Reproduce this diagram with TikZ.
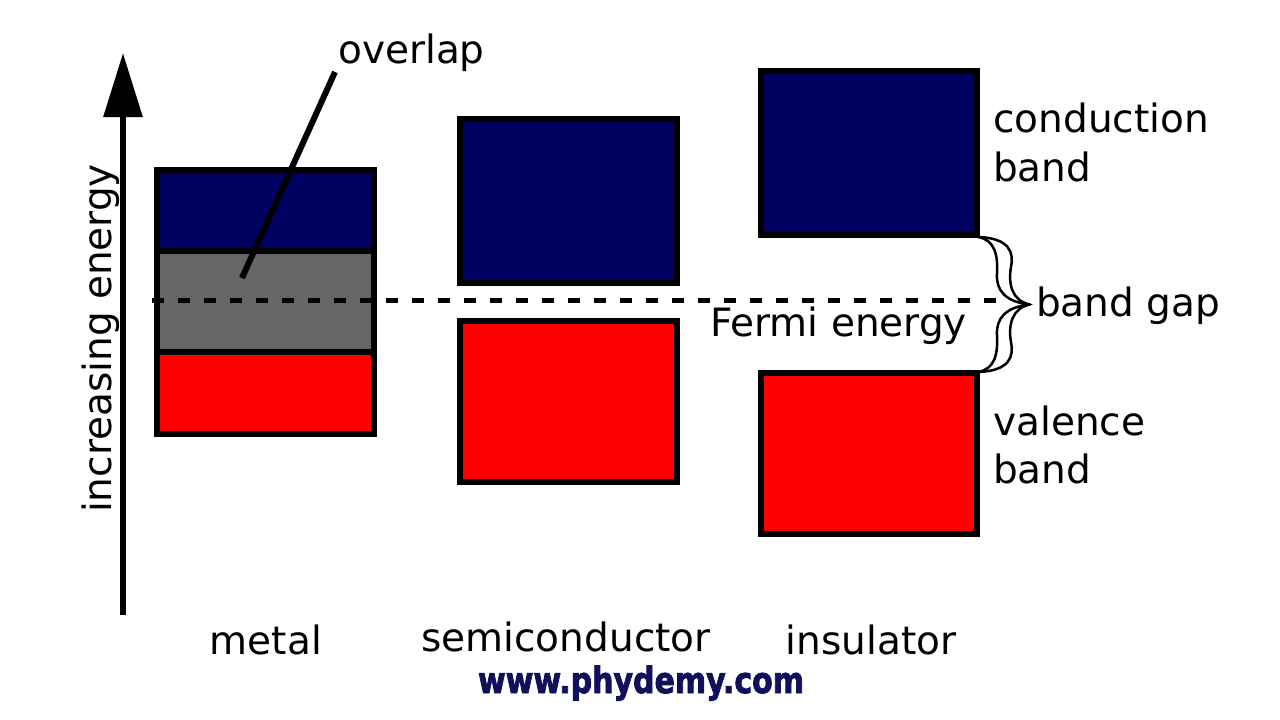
\documentclass[tikz,border=0pt]{standalone}
\usepackage{fontspec}
\setmainfont{DejaVu Sans}
\newfontfamily\wmfont[FakeBold=2.5]{DejaVu Sans Bold}
\usetikzlibrary{arrows.meta}
\definecolor{bandblue}{RGB}{0,0,96}
\definecolor{bandred}{RGB}{255,0,0}
\definecolor{bandgray}{RGB}{102,102,102}
\definecolor{wmark}{RGB}{16,16,92}
\begin{document}
\begin{tikzpicture}[x=1pt,y=-1pt,
  lbl/.style={font=\fontsize{39}{47}\selectfont, inner sep=0pt, anchor=base west},
  clbl/.style={font=\fontsize{39}{47}\selectfont, inner sep=0pt, anchor=base},
  bandbox/.style={draw=black, line width=6pt, inner sep=0pt, outer sep=0pt},
  thick line/.style={line width=6pt}]
\useasboundingbox[fill=white] (0,0) rectangle (1280,720);

% metal
\node[bandbox, fill=bandblue, minimum width=217pt, minimum height=81pt] (mblue) at (265.5,210.5) {};
\node[bandbox, fill=bandgray, minimum width=217pt, minimum height=101pt] (mgray) at (265.5,301.5) {};
\node[bandbox, fill=bandred, minimum width=217pt, minimum height=82pt] (mred) at (265.5,393) {};

% semiconductor
\node[bandbox, fill=bandblue, minimum width=217pt, minimum height=164pt] (sblue) at (568.5,201) {};
\node[bandbox, fill=bandred, minimum width=217pt, minimum height=161pt] (sred) at (568.5,401.5) {};

% insulator
\node[bandbox, fill=bandblue, minimum width=216pt, minimum height=164pt] (iblue) at (869,153) {};
\node[bandbox, fill=bandred, minimum width=216pt, minimum height=161pt] (ired) at (869,453.5) {};

% Fermi level
\coordinate (fermiA) at (152,300);
\coordinate (fermiB) at (996,300);
\draw[line width=5pt, dash pattern=on 12pt off 14pt] (fermiA) -- (fermiB);

% brace
\begin{scope}[line width=2.5pt, line join=round]
\filldraw[fill=white] (978,237) .. controls (1010,238) and (1014,253) .. (1011,267)
   .. controls (1008,284) and (1012,301) .. (1030,304.5)
   .. controls (1005,302) and (996,290) .. (997,274)
   .. controls (998,255) and (995,240) .. (978,237) -- cycle;
\filldraw[fill=white] (978,372) .. controls (1010,371) and (1014,356) .. (1011,342)
   .. controls (1008,325) and (1012,308) .. (1030,304.5)
   .. controls (1005,307) and (996,319) .. (997,335)
   .. controls (998,354) and (995,369) .. (978,372) -- cycle;
\end{scope}
\fill (1022,302) -- (1033,304.5) -- (1022,307) -- cycle;

% axis
\coordinate (axisA) at (123,615);
\coordinate (axisB) at (123,53);
\draw[thick line, -{Triangle[length=64pt,width=38pt]}] (axisA) -- (axisB);
\node[clbl, rotate=90] (axlbl) at (111,338.5) {increasing energy};

% overlap
\node[lbl] (ovl) at (338,63) {overlap};
\coordinate (ovA) at (242,278);
\coordinate (ovB) at (335,72);
\draw[thick line] (ovA) -- (ovB);

% labels
\node[lbl] (cb1) at (993,132) {conduction};
\node[lbl] (cb2) at (993,181) {band};
\node[lbl] (vb1) at (993,435) {valence};
\node[lbl] (vb2) at (993,483) {band};
\node[lbl] (fe) at (710,336) {Fermi energy};
\node[lbl] (bg) at (1036,316) {band gap};

\node[clbl] (metal) at (266,654) {metal};
\node[clbl] (semi) at (566,651) {semiconductor};
\node[clbl] (ins) at (871,654) {insulator};

\node[font=\wmfont\fontsize{30}{34}\selectfont, text=wmark, inner sep=0pt, anchor=base, xscale=1.0, yscale=1.2] (wm) at (641,693) {www.phydemy.com};
\end{tikzpicture}
\end{document}
